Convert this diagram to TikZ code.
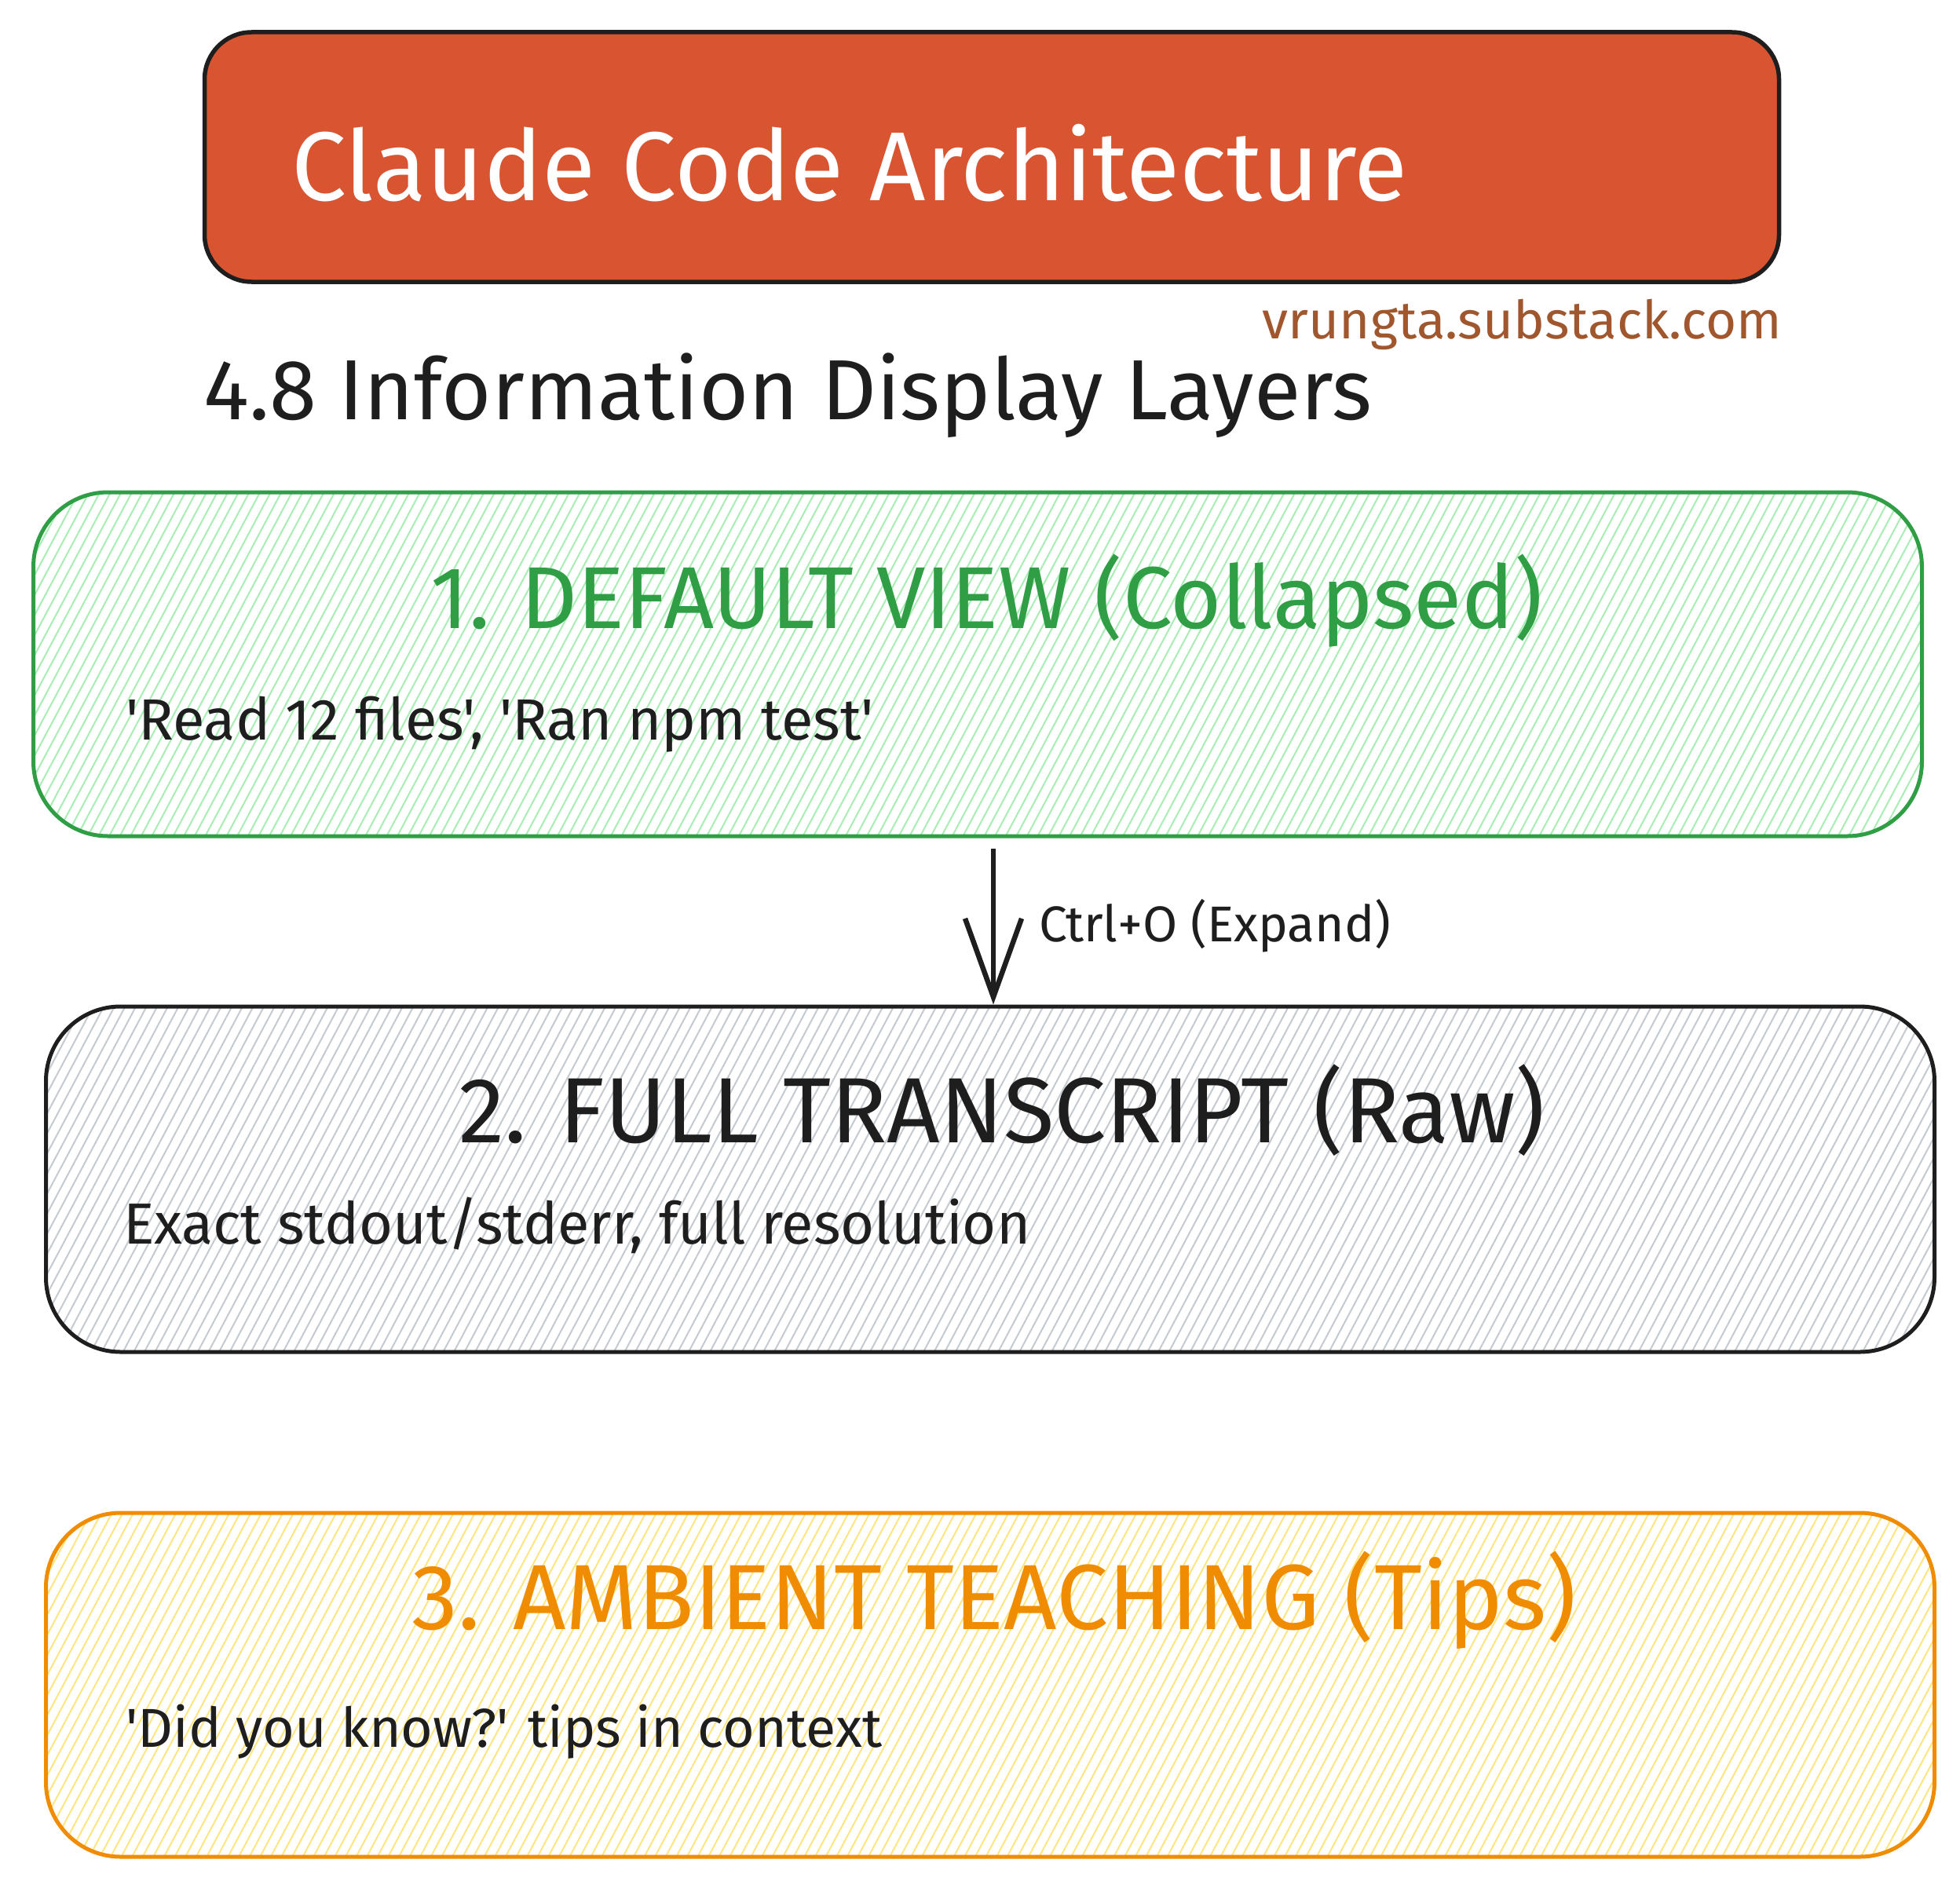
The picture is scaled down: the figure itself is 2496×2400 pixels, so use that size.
\documentclass[tikz,border=0pt]{standalone}
\usepackage{fontspec}
\setmainfont{Fira Sans}[Ligatures=TeXOff]
\usetikzlibrary{patterns.meta,arrows.meta}
\definecolor{inkblack}{HTML}{1E1E1E}
\definecolor{titlered}{HTML}{D95532}
\definecolor{brownink}{HTML}{A0572E}
\definecolor{greenink}{HTML}{2F9E44}
\definecolor{greenhatch}{HTML}{A8EDB3}
\definecolor{greyhatch}{HTML}{C4CAD0}
\definecolor{orangeink}{HTML}{F08C00}
\definecolor{orangehatch}{HTML}{FFE580}
\newcommand{\fitto}[2]{\resizebox{#1pt}{!}{#2}}
\tikzset{
  layerbox/.style={rounded corners=95pt, line width=5pt, minimum width=2405pt, inner sep=0pt},
  hatch/.style={pattern={Lines[angle=62,distance=12pt,line width=2pt]}, pattern color=#1},
  txt/.style={inner sep=0pt, text=inkblack, anchor=west},
  arr/.style={-{Straight Barb[length=100pt,width=72pt,line width=6.5pt]}, line width=6.5pt, draw=inkblack},
}
\begin{document}
\begin{tikzpicture}[x=1pt,y=-1pt]
\useasboundingbox (0,0) rectangle (2496,2400);
% title
\node[draw=inkblack, fill=titlered, line width=5.5pt, rounded corners=60pt, minimum width=2005pt, minimum height=318pt] (title) at (1263,200) {};
\node[txt, text=white] (titletext) at (371,208) {\fitto{1421}{\fontsize{100}{120}\selectfont Claude Code Architecture}};
\node[inner sep=0pt, text=brownink, anchor=east] (credit) at (2269,413) {\fitto{661}{\fontsize{60}{72}\selectfont vrungta.substack.com}};
\node[txt] (heading) at (259,504) {\fitto{1488}{\fontsize{90}{108}\selectfont 4.8 Information Display Layers}};
% box 1
\node[layerbox, draw=greenink, minimum height=438pt, hatch=greenhatch] (green) at (1245,846) {};
\node[inner sep=0pt, text=greenink] (greentitle) at (1257,765) {\fitto{1416}{\fontsize{90}{108}\selectfont 1. DEFAULT VIEW (Collapsed)}};
\node[txt] (greentext) at (160,923) {\fitto{952}{\fontsize{60}{72}\selectfont 'Read 12 files', 'Ran npm test'}};
% box 2
\node[layerbox, draw=inkblack, minimum height=440pt, hatch=greyhatch] (grey) at (1261,1502) {};
\node[inner sep=0pt, text=inkblack] (greytitle) at (1276,1414) {\fitto{1384}{\fontsize{90}{108}\selectfont 2. FULL TRANSCRIPT (Raw)}};
\node[txt] (greytext) at (157,1561) {\fitto{1155}{\fontsize{60}{72}\selectfont Exact stdout/stderr, full resolution}};
% box 3
\node[layerbox, draw=orangeink, minimum height=438pt, hatch=orangehatch] (orange) at (1261,2146) {};
\node[inner sep=0pt, text=orangeink] (orangetitle) at (1266,2038) {\fitto{1483}{\fontsize{90}{108}\selectfont 3. AMBIENT TEACHING (Tips)}};
\node[txt] (orangetext) at (160,2206) {\fitto{963}{\fontsize{60}{72}\selectfont 'Did you know?' tips in context}};
% arrow
\draw[arr] ([xshift=20pt,yshift=-15pt]green.south) -- ([xshift=4pt]grey.north);
\node[txt] (arrlabel) at (1323,1179) {\fitto{448}{\fontsize{50}{60}\selectfont Ctrl+O (Expand)}};
\end{tikzpicture}
\end{document}
